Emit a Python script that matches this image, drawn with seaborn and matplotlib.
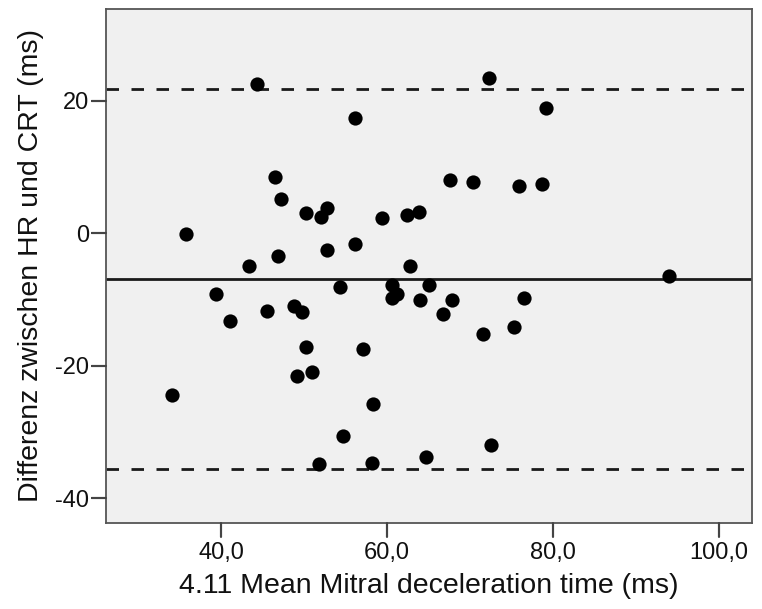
import matplotlib
matplotlib.use('Agg')
import matplotlib.pyplot as plt
import seaborn as sns
import pandas as pd

# Data (Bland-Altman plot)
mean_dt = [44.3, 56.1, 46.5, 47.2, 50.2, 52.7, 52.0, 59.4, 62.4, 63.9,
           35.8, 56.1, 52.7, 46.9, 43.4, 62.8,
           72.3, 79.1, 67.6, 70.4, 75.9, 78.7,
           54.3, 60.6, 61.2, 60.6, 64.0, 65.1, 39.4, 41.0, 45.5, 48.8,
           49.7, 50.2, 57.1, 49.1, 51.0, 34.0, 58.3, 54.7, 51.8, 58.2, 64.7,
           94.0, 67.8, 66.7, 76.5, 71.6, 75.3, 72.5]
diff = [22.5, 17.3, 8.5, 5.2, 3.0, 3.8, 2.5, 2.3, 2.7, 3.2,
        -0.15, -1.6, -2.5, -3.5, -4.9, -4.9,
        23.4, 18.8, 8.0, 7.7, 7.1, 7.4,
        -8.1, -7.8, -9.1, -9.8, -10.1, -7.8, -9.2, -13.2, -11.7, -11.0,
        -11.9, -17.1, -17.5, -21.5, -21.0, -24.4, -25.7, -30.6, -34.8, -34.7, -33.8,
        -6.45, -10.1, -12.2, -9.7, -15.2, -14.2, -31.9]
mean_diff = -6.9
upper_loa = 21.7
lower_loa = -35.5

x_ticks = [40, 60, 80, 100]
x_tick_labels = ['40,0', '60,0', '80,0', '100,0']
y_ticks = [-40, -20, 0, 20]

df = pd.DataFrame({'x': mean_dt, 'y': diff})

sns.set_theme(style="ticks")
plt.rcParams['font.family'] = ['Liberation Sans', 'DejaVu Sans']
plt.rcParams['axes.unicode_minus'] = False

fig = plt.figure(figsize=(7.62, 6.09), dpi=100)
ax = fig.add_axes([106 / 762, 1 - 523 / 609, (752 - 106) / 762, (523 - 9) / 609])
ax.set_facecolor('#f0f0f0')

ax.axhline(upper_loa, color='#1a1a1a', lw=2, ls=(0, (4.5, 4.5)), zorder=1)
ax.axhline(mean_diff, color='#1a1a1a', lw=2, zorder=1)
ax.axhline(lower_loa, color='#1a1a1a', lw=2, ls=(0, (4.5, 4.5)), zorder=1)

sns.scatterplot(data=df, x='x', y='y', color='black', s=105, edgecolor='black',
                linewidth=0, ax=ax, zorder=3)

ax.set_xlim(26.1, 104.0)
ax.set_ylim(-43.7, 33.8)
ax.set_xticks(x_ticks)
ax.set_xticklabels(x_tick_labels)
ax.set_yticks(y_ticks)

for s in ax.spines.values():
    s.set_visible(True)
    s.set_color('#555555')
    s.set_linewidth(1.3)

ax.tick_params(axis='x', which='major', direction='out', length=10, width=1.5,
               color='#444444', labelsize=17, labelcolor='#111111', pad=4)
ax.tick_params(axis='y', which='major', direction='out', length=11, width=1.5,
               color='#444444', labelsize=17, labelcolor='#111111', pad=1)

# tick marks drawn as plain lines (SPSS-style long outward ticks)
for xt in x_ticks:
    ax.plot([xt, xt], [0, -0.027], transform=ax.get_xaxis_transform(),
            color='#444444', lw=1.5, clip_on=False, zorder=5)
for yt in y_ticks:
    ax.plot([0, -0.022], [yt, yt], transform=ax.get_yaxis_transform(),
            color='#444444', lw=1.5, clip_on=False, zorder=5)

ax.set_xlabel('4.11 Mean Mitral deceleration time (ms)', fontsize=20.5, color='#111111', labelpad=6)
ax.set_ylabel('Differenz zwischen HR und CRT (ms)', fontsize=20.5, color='#111111', labelpad=8)

fig.savefig('out.png', dpi=100, facecolor='white')
